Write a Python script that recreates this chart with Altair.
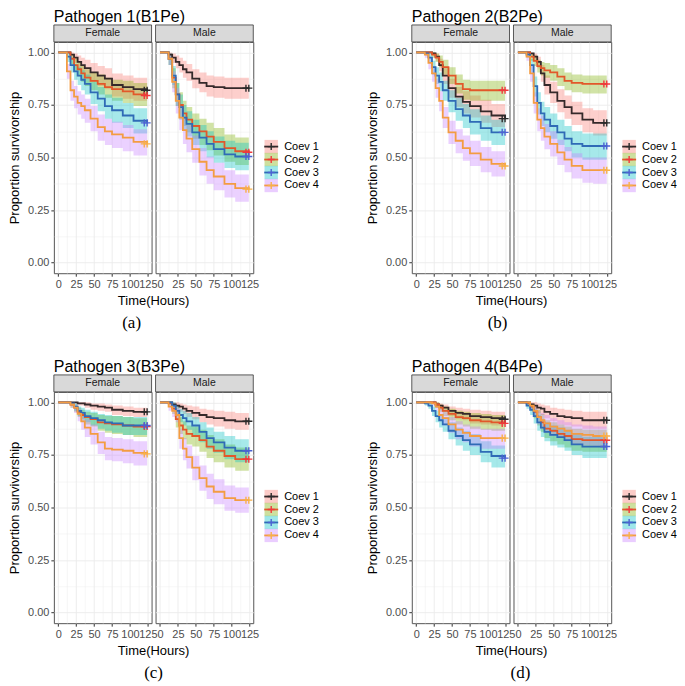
import altair as alt
import pandas as pd

# ---------------- data ----------------
T = [0, 12, 17, 22, 27, 32, 37, 45, 55, 65, 75, 90, 105, 124]
CENSOR_T = [120, 124]
COEVS = ["Coev 1", "Coev 2", "Coev 3", "Coev 4"]
SEXES = ["Female", "Male"]
TITLES = ["Pathogen 1(B1Pe)", "Pathogen 2(B2Pe)", "Pathogen 3(B3Pe)", "Pathogen 4(B4Pe)"]
CAPTIONS = ["(a)", "(b)", "(c)", "(d)"]
X_GRID = [0, 12.5, 25, 37.5, 50, 62.5, 75, 87.5, 100, 112.5, 125]
Y_GRID = [0, 0.125, 0.25, 0.375, 0.5, 0.625, 0.75, 0.875, 1.0]

# Pathogen 1
S1F = [[1,1,0.99,0.975,0.955,0.94,0.925,0.905,0.89,0.875,0.845,0.835,0.825,0.82],
       [1,1,0.97,0.94,0.92,0.90,0.88,0.865,0.85,0.835,0.825,0.815,0.80,0.795],
       [1,0.98,0.94,0.91,0.89,0.87,0.85,0.81,0.78,0.745,0.725,0.70,0.675,0.665],
       [1,0.91,0.82,0.79,0.76,0.745,0.725,0.685,0.645,0.625,0.61,0.595,0.575,0.565]]
L1F = [[1,1,0.97,0.95,0.92,0.90,0.88,0.86,0.84,0.825,0.79,0.78,0.77,0.765],
       [1,1,0.945,0.91,0.885,0.86,0.84,0.82,0.80,0.785,0.77,0.76,0.745,0.74],
       [1,0.955,0.905,0.87,0.845,0.82,0.80,0.755,0.72,0.685,0.665,0.64,0.615,0.605],
       [1,0.875,0.77,0.735,0.705,0.685,0.665,0.625,0.58,0.56,0.545,0.53,0.51,0.50]]
U1F = [[1,1,1,0.995,0.985,0.975,0.965,0.95,0.935,0.925,0.90,0.89,0.88,0.875],
       [1,1,0.99,0.97,0.955,0.94,0.92,0.905,0.895,0.88,0.87,0.865,0.855,0.85],
       [1,1,0.97,0.945,0.93,0.915,0.895,0.86,0.835,0.80,0.785,0.76,0.735,0.725],
       [1,0.945,0.865,0.84,0.815,0.80,0.78,0.745,0.705,0.685,0.67,0.655,0.635,0.625]]
S1M = [[1,0.99,0.975,0.955,0.94,0.92,0.905,0.875,0.855,0.84,0.835,0.83,0.83,0.83],
       [1,0.97,0.88,0.80,0.75,0.71,0.68,0.65,0.625,0.60,0.575,0.545,0.53,0.525],
       [1,0.97,0.89,0.80,0.74,0.69,0.66,0.62,0.595,0.565,0.54,0.515,0.505,0.505],
       [1,0.97,0.86,0.77,0.69,0.63,0.59,0.54,0.48,0.44,0.41,0.375,0.355,0.35]]
L1M = [[1,0.97,0.95,0.925,0.905,0.88,0.865,0.83,0.81,0.79,0.785,0.78,0.78,0.78],
       [1,0.94,0.83,0.745,0.69,0.65,0.62,0.59,0.56,0.535,0.51,0.48,0.465,0.46],
       [1,0.94,0.845,0.745,0.68,0.63,0.60,0.56,0.53,0.50,0.475,0.45,0.44,0.44],
       [1,0.94,0.81,0.71,0.63,0.565,0.525,0.475,0.415,0.375,0.345,0.31,0.29,0.285]]
U1M = [[1,1,0.995,0.985,0.975,0.96,0.945,0.92,0.905,0.89,0.885,0.88,0.88,0.88],
       [1,0.995,0.925,0.855,0.81,0.77,0.74,0.71,0.685,0.665,0.64,0.61,0.595,0.59],
       [1,0.995,0.935,0.855,0.80,0.75,0.72,0.68,0.655,0.625,0.60,0.58,0.57,0.57],
       [1,0.995,0.91,0.83,0.75,0.695,0.655,0.605,0.545,0.505,0.475,0.44,0.42,0.415]]

# Pathogen 2
S2F = [[1,1,1,0.995,0.98,0.94,0.89,0.83,0.79,0.765,0.745,0.72,0.70,0.685],
       [1,1,1,0.99,0.975,0.955,0.93,0.89,0.85,0.825,0.82,0.82,0.82,0.82],
       [1,0.995,0.975,0.93,0.89,0.86,0.82,0.77,0.73,0.70,0.67,0.64,0.62,0.62],
       [1,0.99,0.95,0.90,0.83,0.77,0.69,0.62,0.58,0.545,0.52,0.49,0.47,0.46]]
L2F = [[1,1,1,0.985,0.96,0.91,0.85,0.785,0.74,0.71,0.69,0.665,0.645,0.63],
       [1,1,1,0.975,0.955,0.93,0.895,0.85,0.805,0.775,0.77,0.77,0.77,0.77],
       [1,0.985,0.95,0.895,0.85,0.815,0.77,0.715,0.675,0.64,0.61,0.58,0.56,0.56],
       [1,0.975,0.92,0.86,0.785,0.72,0.64,0.565,0.52,0.485,0.46,0.43,0.41,0.40]]
U2F = [[1,1,1,1,0.995,0.97,0.93,0.875,0.835,0.815,0.795,0.775,0.755,0.74],
       [1,1,1,1,0.995,0.985,0.965,0.93,0.895,0.87,0.865,0.865,0.865,0.865],
       [1,1,0.995,0.96,0.93,0.905,0.865,0.82,0.785,0.755,0.73,0.70,0.68,0.68],
       [1,1,0.98,0.935,0.875,0.815,0.74,0.675,0.635,0.605,0.58,0.55,0.53,0.52]]
S2M = [[1,1,0.995,0.98,0.955,0.90,0.845,0.81,0.77,0.74,0.71,0.68,0.665,0.665],
       [1,1,0.98,0.96,0.935,0.925,0.915,0.905,0.885,0.865,0.855,0.85,0.85,0.85],
       [1,0.99,0.94,0.84,0.76,0.71,0.68,0.65,0.62,0.59,0.565,0.555,0.555,0.555],
       [1,0.98,0.90,0.76,0.68,0.64,0.60,0.565,0.525,0.49,0.46,0.44,0.44,0.44]]
L2M = [[1,1,0.985,0.96,0.925,0.86,0.80,0.76,0.715,0.685,0.655,0.62,0.605,0.605],
       [1,1,0.96,0.935,0.905,0.89,0.88,0.865,0.84,0.82,0.81,0.805,0.805,0.805],
       [1,0.975,0.905,0.79,0.705,0.65,0.62,0.59,0.56,0.53,0.50,0.49,0.49,0.49],
       [1,0.96,0.86,0.71,0.625,0.58,0.54,0.505,0.465,0.43,0.40,0.38,0.375,0.375]]
U2M = [[1,1,1,0.995,0.98,0.94,0.89,0.86,0.825,0.795,0.765,0.735,0.725,0.725],
       [1,1,0.995,0.985,0.965,0.955,0.95,0.94,0.925,0.905,0.895,0.89,0.89,0.89],
       [1,1,0.97,0.885,0.81,0.765,0.74,0.71,0.68,0.65,0.625,0.615,0.615,0.615],
       [1,0.995,0.94,0.81,0.735,0.70,0.66,0.625,0.585,0.55,0.52,0.50,0.50,0.50]]

# Pathogen 3
S3F = [[1,1,1,1,0.995,0.995,0.99,0.985,0.98,0.975,0.965,0.96,0.955,0.955],
       [1,1,0.99,0.975,0.955,0.94,0.93,0.92,0.905,0.90,0.895,0.89,0.885,0.885],
       [1,1,0.995,0.98,0.96,0.95,0.935,0.925,0.915,0.905,0.90,0.89,0.89,0.89],
       [1,1,0.99,0.975,0.945,0.91,0.88,0.85,0.81,0.78,0.775,0.77,0.76,0.755]]
L3F = [[1,1,1,1,0.985,0.985,0.975,0.965,0.96,0.955,0.94,0.935,0.93,0.93],
       [1,1,0.975,0.955,0.93,0.91,0.895,0.885,0.865,0.855,0.85,0.845,0.835,0.835],
       [1,1,0.985,0.96,0.935,0.92,0.905,0.89,0.875,0.865,0.855,0.845,0.845,0.845],
       [1,1,0.975,0.95,0.91,0.87,0.835,0.80,0.755,0.725,0.72,0.71,0.70,0.695]]
U3F = [[1,1,1,1,1,1,1,0.995,0.995,0.99,0.985,0.98,0.975,0.975],
       [1,1,1,0.99,0.975,0.965,0.955,0.95,0.94,0.935,0.935,0.93,0.925,0.925],
       [1,1,1,0.995,0.98,0.975,0.965,0.955,0.945,0.94,0.935,0.93,0.93,0.93],
       [1,1,1,0.99,0.97,0.945,0.92,0.895,0.86,0.835,0.83,0.825,0.815,0.81]]
S3M = [[1,1,0.99,0.985,0.98,0.97,0.96,0.95,0.94,0.93,0.925,0.915,0.91,0.91],
       [1,0.995,0.97,0.92,0.89,0.87,0.85,0.84,0.82,0.79,0.77,0.745,0.73,0.73],
       [1,1,0.985,0.96,0.94,0.925,0.91,0.89,0.86,0.83,0.81,0.785,0.77,0.77],
       [1,0.98,0.96,0.94,0.83,0.78,0.74,0.69,0.64,0.60,0.575,0.545,0.535,0.535]]
L3M = [[1,1,0.975,0.965,0.955,0.945,0.93,0.92,0.905,0.895,0.885,0.875,0.87,0.87],
       [1,0.985,0.945,0.88,0.85,0.825,0.80,0.79,0.765,0.735,0.715,0.69,0.675,0.675],
       [1,1,0.97,0.935,0.905,0.89,0.87,0.845,0.81,0.78,0.76,0.73,0.715,0.715],
       [1,0.96,0.93,0.905,0.78,0.725,0.685,0.63,0.58,0.54,0.515,0.485,0.475,0.475]]
U3M = [[1,1,1,1,0.995,0.99,0.985,0.98,0.97,0.965,0.96,0.955,0.95,0.95],
       [1,1,0.99,0.955,0.93,0.91,0.89,0.885,0.87,0.845,0.825,0.80,0.785,0.785],
       [1,1,1,0.985,0.97,0.96,0.95,0.93,0.905,0.88,0.86,0.84,0.825,0.825],
       [1,0.995,0.985,0.97,0.875,0.83,0.795,0.745,0.70,0.66,0.635,0.605,0.595,0.595]]

# Pathogen 4
S4F = [[1,1,1,1,0.99,0.985,0.975,0.96,0.95,0.945,0.935,0.93,0.925,0.92],
       [1,1,1,1,0.99,0.975,0.96,0.945,0.93,0.925,0.915,0.91,0.905,0.90],
       [1,0.995,0.985,0.96,0.935,0.915,0.895,0.865,0.84,0.82,0.80,0.765,0.745,0.735],
       [1,1,1,0.995,0.98,0.94,0.925,0.895,0.87,0.855,0.84,0.83,0.83,0.83]]
L4F = [[1,1,1,1,0.975,0.965,0.955,0.935,0.92,0.915,0.90,0.895,0.89,0.885],
       [1,1,1,1,0.975,0.955,0.935,0.915,0.895,0.885,0.875,0.87,0.865,0.86],
       [1,0.985,0.97,0.935,0.905,0.88,0.86,0.825,0.795,0.77,0.75,0.715,0.69,0.68],
       [1,1,1,0.985,0.96,0.91,0.89,0.855,0.825,0.81,0.79,0.78,0.78,0.78]]
U4F = [[1,1,1,1,1,0.995,0.99,0.98,0.975,0.97,0.965,0.96,0.955,0.955],
       [1,1,1,1,1,0.99,0.98,0.97,0.96,0.955,0.95,0.945,0.94,0.94],
       [1,1,0.995,0.98,0.96,0.945,0.93,0.905,0.88,0.865,0.85,0.815,0.795,0.79],
       [1,1,1,1,0.995,0.97,0.955,0.93,0.91,0.895,0.885,0.875,0.875,0.875]]
S4M = [[1,1,0.99,0.985,0.975,0.97,0.955,0.945,0.935,0.93,0.925,0.915,0.915,0.915],
       [1,0.995,0.98,0.955,0.93,0.905,0.875,0.865,0.85,0.84,0.825,0.82,0.82,0.82],
       [1,0.985,0.965,0.935,0.905,0.88,0.86,0.845,0.835,0.82,0.80,0.79,0.79,0.79],
       [1,1,0.985,0.96,0.93,0.915,0.90,0.885,0.875,0.865,0.85,0.845,0.84,0.84]]
L4M = [[1,1,0.975,0.965,0.95,0.94,0.925,0.91,0.895,0.89,0.885,0.875,0.875,0.875],
       [1,0.985,0.96,0.925,0.89,0.86,0.83,0.815,0.80,0.785,0.77,0.765,0.765,0.765],
       [1,0.97,0.94,0.90,0.865,0.835,0.815,0.795,0.785,0.77,0.75,0.735,0.735,0.735],
       [1,1,0.965,0.93,0.895,0.875,0.855,0.84,0.83,0.815,0.80,0.795,0.79,0.79]]
U4M = [[1,1,1,1,0.995,0.99,0.985,0.975,0.97,0.965,0.96,0.955,0.955,0.955],
       [1,1,0.995,0.98,0.965,0.945,0.915,0.905,0.895,0.885,0.875,0.87,0.87,0.87],
       [1,1,0.985,0.965,0.94,0.92,0.905,0.89,0.88,0.865,0.85,0.835,0.835,0.835],
       [1,1,0.995,0.985,0.96,0.95,0.94,0.925,0.915,0.905,0.895,0.89,0.885,0.885]]

DATA = {
    (0, "Female"): (S1F, L1F, U1F), (0, "Male"): (S1M, L1M, U1M),
    (1, "Female"): (S2F, L2F, U2F), (1, "Male"): (S2M, L2M, U2M),
    (2, "Female"): (S3F, L3F, U3F), (2, "Male"): (S3M, L3M, U3M),
    (3, "Female"): (S4F, L4F, U4F), (3, "Male"): (S4M, L4M, U4M),
}

# ---------------- styling / layout ----------------
LINE_COLORS = ["#35292a", "#e2582a", "#2f6bb6", "#f39c42"]
CROSS_COLORS = ["#2b2b2b", "#f0393c", "#4c63d2", "#f8b04a"]
BAND_COLORS = ["#F8766D", "#7CAE00", "#00BFC4", "#C77CFF"]
FONT = "Liberation Sans"
W, H, GAP = 98, 232, 4
LEG_W = [151, 58]
ROW_GAP = 119
CAP_X = [78, 86, 100, 109]
LEG_OFF = 7
STRIP_H = 17
CROSS = "M-1,0L1,0M0,-1L0,1"

x_scale = alt.Scale(domain=[-6.2, 130.2], nice=False, zero=False)
y_scale = alt.Scale(domain=[-0.05, 1.05], nice=False, zero=False)
stroke_enc = alt.Stroke("coev:N", scale=alt.Scale(domain=COEVS, range=LINE_COLORS), legend=None)
fill_enc = alt.Fill("coev:N", scale=alt.Scale(domain=COEVS, range=BAND_COLORS), legend=None)
color_enc = alt.Color("coev:N", scale=alt.Scale(domain=COEVS, range=CROSS_COLORS), legend=None)

grid_w = {"condition": {"test": "round(datum.value*1000) % 250 === 0", "value": 0.9}, "value": 0.45}
grid_wx = {"condition": {"test": "datum.value % 25 === 0", "value": 0.9}, "value": 0.45}


def x_axis():
    return alt.Axis(values=X_GRID, title=None, labelExpr="datum.value % 25 === 0 ? datum.label : ''",
                    tickOpacity={"condition": {"test": "datum.value % 25 === 0", "value": 1}, "value": 0},
                    gridWidth=grid_wx, labelFlush=False, labelOverlap=False)


def y_axis(show):
    if show:
        return alt.Axis(values=Y_GRID, title="Proportion survivorship", format=".2f",
                        labelExpr="round(datum.value*1000) % 250 === 0 ? datum.label : ''",
                        tickOpacity={"condition": {"test": "round(datum.value*1000) % 250 === 0", "value": 1}, "value": 0},
                        gridWidth=grid_w, labelFlush=False, labelOverlap=False, titlePadding=6)
    return alt.Axis(values=Y_GRID, title=None, labels=False, ticks=False, gridWidth=grid_w)


def plot_unit(p, sex):
    S, L, U = DATA[(p, sex)]
    rows = []
    for ci, c in enumerate(COEVS):
        for t, s, lo, hi in zip(T, S[ci], L[ci], U[ci]):
            rows.append({"coev": c, "t": t, "s": s, "lo": lo, "hi": hi})
    df = pd.DataFrame(rows)
    cens = pd.DataFrame([{"coev": c, "t": tc, "s": S[ci][-1]} for ci, c in enumerate(COEVS) for tc in CENSOR_T])
    show = sex == "Female"
    xa, ya = x_axis(), y_axis(show)

    band = alt.Chart(df).mark_area(interpolate="step-after", opacity=0.35).encode(
        x=alt.X("t:Q", scale=x_scale, axis=xa),
        y=alt.Y("lo:Q", scale=y_scale, axis=ya),
        y2="hi:Q", fill=fill_enc)
    line = alt.Chart(df).mark_line(interpolate="step-after", strokeWidth=1.8).encode(
        x=alt.X("t:Q", scale=x_scale, axis=xa),
        y=alt.Y("s:Q", scale=y_scale, axis=ya),
        stroke=stroke_enc)
    marks = alt.Chart(cens).mark_point(shape=CROSS, size=50, filled=False, strokeWidth=1.4, opacity=1).encode(
        x=alt.X("t:Q", scale=x_scale, axis=xa),
        y=alt.Y("s:Q", scale=y_scale, axis=ya),
        color=color_enc)

    lab = pd.DataFrame({"label": [sex], "title": [TITLES[p]], "xt": ["Time(Hours)"], "cap": [CAPTIONS[p]]})
    strip = alt.Chart(lab).mark_rect(fill="#d9d9d9", stroke="#333333", strokeWidth=0.8).encode(
        x=alt.value(0), x2=alt.value(W), y=alt.value(-STRIP_H), y2=alt.value(0))
    strip_txt = alt.Chart(lab).mark_text(fontSize=10.5, color="#1a1a1a", font=FONT, baseline="middle").encode(
        x=alt.value(W / 2), y=alt.value(-STRIP_H / 2), text="label:N")
    layers = [band, line, marks, strip, strip_txt]
    if show:
        layers.append(alt.Chart(lab).mark_text(fontSize=16, align="left", font=FONT, color="#000000").encode(
            x=alt.value(0), y=alt.value(-24.5), text="title:N"))
        layers.append(alt.Chart(lab).mark_text(fontSize=13, font=FONT, color="#000000").encode(
            x=alt.value(W + GAP / 2), y=alt.value(H + 28), text="xt:N"))
        layers.append(alt.Chart(lab).mark_text(fontSize=17, font="Liberation Serif", color="#000000").encode(
            x=alt.value(CAP_X[p]), y=alt.value(H + 50), text="cap:N"))
    return alt.layer(*layers).properties(width=W, height=H)


def legend_unit(p, width):
    df = pd.DataFrame({"coev": COEVS})
    ysc = alt.Y("coev:N", scale=alt.Scale(type="point", domain=COEVS, range=[105, 144], padding=0), axis=None)
    box = alt.Chart(df).mark_square(size=180, opacity=0.38).encode(
        x=alt.value(LEG_OFF + 7), y=ysc, fill=fill_enc)
    rule = alt.Chart(df).mark_rule(strokeWidth=1.8).encode(
        x=alt.value(LEG_OFF), x2=alt.value(LEG_OFF + 14), y=ysc, stroke=stroke_enc)
    cr = alt.Chart(df).mark_point(shape=CROSS, size=50, filled=False, strokeWidth=1.4, opacity=1).encode(
        x=alt.value(LEG_OFF + 7), y=ysc, color=color_enc)
    txt = alt.Chart(df).mark_text(align="left", baseline="middle", fontSize=11, font=FONT, color="#000000").encode(
        x=alt.value(LEG_OFF + 20), y=ysc, text="coev:N")
    return alt.layer(box, rule, cr, txt).properties(
        width=width, height=H, view=alt.ViewBackground(strokeOpacity=0))


charts = []
for p in range(4):
    charts.append(plot_unit(p, "Female"))
    charts.append(plot_unit(p, "Male"))
    charts.append(legend_unit(p, LEG_W[p % 2]))

chart = alt.concat(*charts, columns=6, spacing={"row": ROW_GAP, "column": GAP}, bounds="flush").properties(
    padding=0
).configure(font=FONT).configure_view(stroke="#555555", strokeWidth=1).configure_axis(
    domain=False, gridColor="#ebebeb", labelFont=FONT, labelFontSize=11, labelColor="#4d4d4d",
    tickColor="#333333", tickSize=3, labelPadding=2, titleFont=FONT, titleFontSize=13,
    titleFontWeight="normal", titleColor="#000000")

chart.save("out.html", embed_options={"renderer": "svg", "actions": False})
